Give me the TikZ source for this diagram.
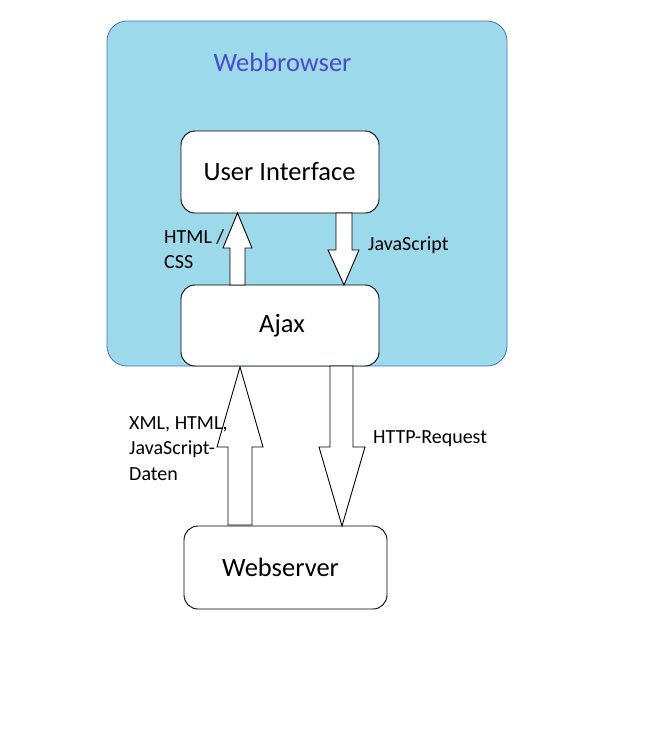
\documentclass[tikz,border=0pt]{standalone}
\usepackage{fontspec}
\setmainfont{Carlito}
\usetikzlibrary{calc}
\definecolor{browserfill}{RGB}{156,217,234}
\definecolor{browserline}{RGB}{70,110,200}
\definecolor{browsertext}{RGB}{75,75,205}
\tikzset{
  box/.style={draw=black, line width=0.9pt, fill=white, rounded corners=14pt},
  boxtext/.style={font=\fontsize{26.5}{30}\selectfont},
  blockarrow/.style={draw=black, line width=0.9pt, fill=white, line join=miter},
  lbl/.style={font=\fontsize{20}{25.5}\selectfont, align=left, anchor=west, inner sep=0pt}
}
\begin{document}
\begin{tikzpicture}[x=1pt, y=-1pt]
\useasboundingbox (0,0) rectangle (670,734);
% Webbrowser container
\node[draw=browserline, line width=0.8pt, fill=browserfill, rounded corners=20pt,
      minimum width=400pt, minimum height=345pt, inner sep=0pt] (browser) at (307,193.5) {};
\node[text=browsertext, font=\fontsize{26.5}{30}\selectfont] (browsertitle) at (282.5,62) {Webbrowser};
% boxes
\node[box, minimum width=198pt, minimum height=82pt] (ui) at (280,172) {};
\node[boxtext] (uitext) at (279.5,172) {User Interface};
\node[box, minimum width=198pt, minimum height=81pt] (ajax) at (280,325.5) {};
\node[boxtext] (ajaxtext) at (282,326) {Ajax};
\node[box, minimum width=203pt, minimum height=83pt] (server) at (285.5,567.5) {};
\node[boxtext] (servertext) at (280.5,567.5) {Webserver};
% arrows
\draw[blockarrow] (230,285) -- (230,248) -- (223,248) -- (237.5,213) -- (252,248) -- (245,248) -- (245,285) -- cycle;
\draw[blockarrow] (336,213) -- (336,250) -- (328,250) -- (344,285) -- (359,250) -- (352,250) -- (352,213) -- cycle;
\draw[blockarrow] (228,525) -- (228,447) -- (217,447) -- (240,367) -- (263,447) -- (252,447) -- (252,525) -- cycle;
\draw[blockarrow] (330,366) -- (330,447) -- (319,447) -- (342,526) -- (365,447) -- (353,447) -- (353,366) -- cycle;
% labels
\node[lbl] (l1) at (164,249) {HTML /\\CSS};
\node[lbl] (l2) at (368,245) {JavaScript};
\node[lbl] (l3) at (129,448.5) {XML, HTML,\\JavaScript-\\Daten};
\node[lbl] (l4) at (373,439) {HTTP-Request};
\end{tikzpicture}
\end{document}
